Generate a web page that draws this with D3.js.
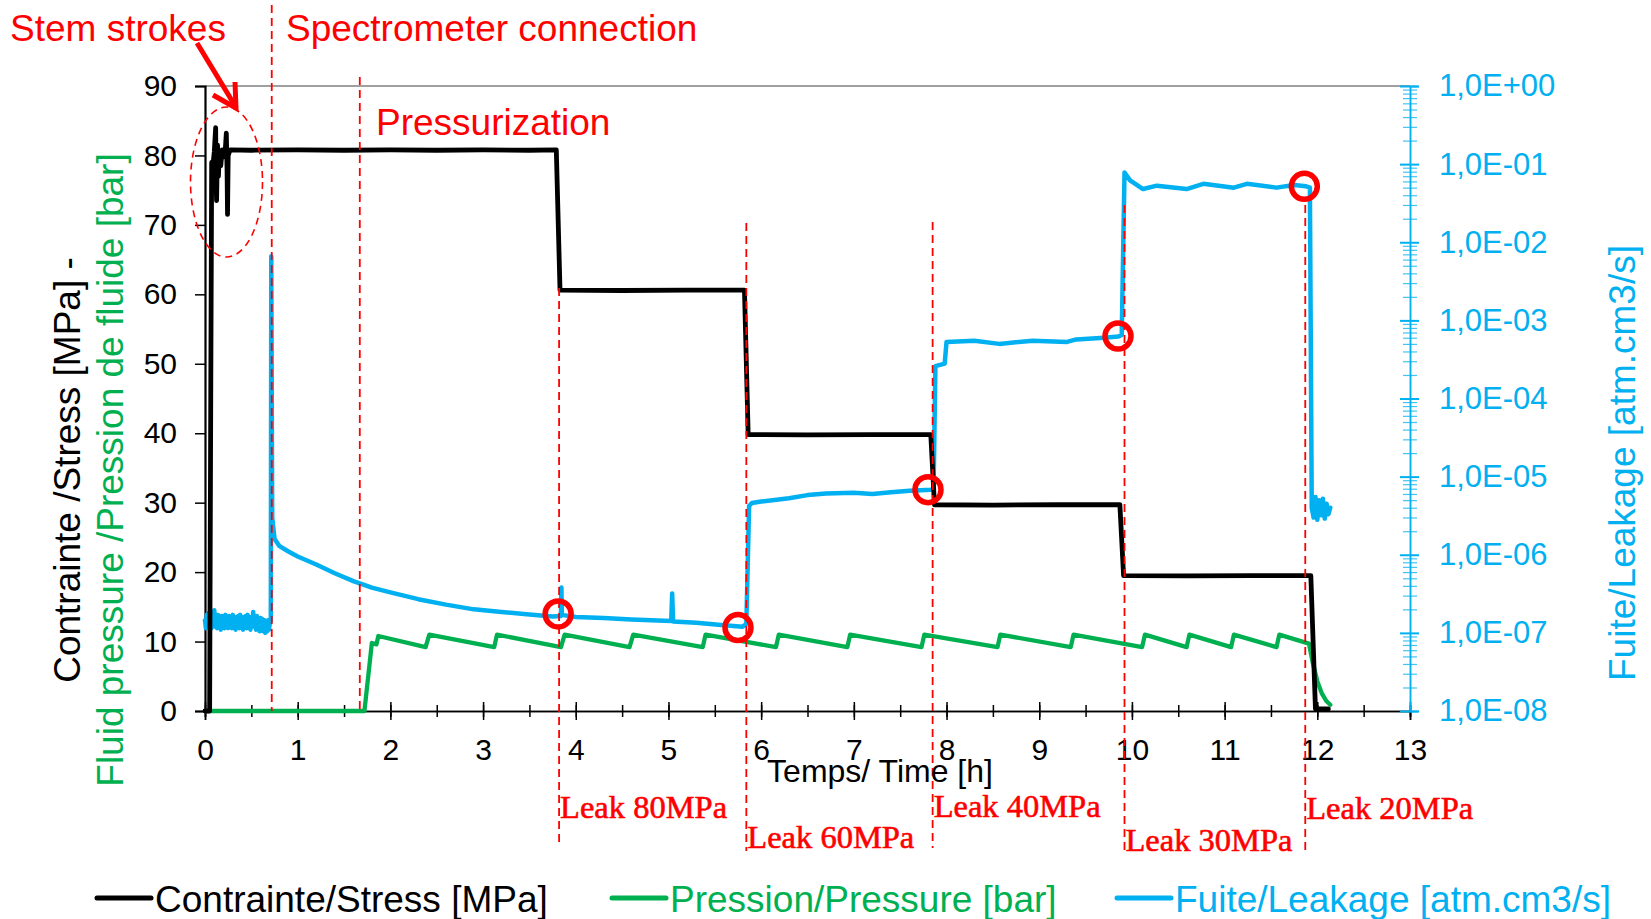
<!DOCTYPE html>
<html><head><meta charset="utf-8">
<script src="https://cdn.jsdelivr.net/npm/d3@7"></script>
<style>
body{margin:0;background:#fff}
</style>
</head><body>
<svg id="c" width="1651" height="919" style="font-family:'Liberation Sans',Arial,sans-serif"></svg>
<script>
// ---------- DATA ----------
const xTicks = d3.range(0, 14, 1);
const xMinorTicks = d3.range(0, 13.01, 0.5);
const leftTicks = d3.range(0, 91, 10);
const leftMinorTicks = d3.range(0, 91, 2);
const rightTicks = [1e-8,1e-7,1e-6,1e-5,1e-4,1e-3,1e-2,1e-1,1];

// Contrainte / Stress [MPa] (time h, MPa)
const stress = [
 [0,0],[0.05,0],[0.062,45],[0.072,79],[0.085,78.5],[0.1,80.5],[0.115,84],[0.12,76],[0.125,73.5],
 [0.135,81.5],[0.145,77],[0.155,80.5],[0.17,78.5],[0.185,80.8],[0.2,79.8],[0.22,81],[0.23,83.2],
 [0.238,78],[0.243,71.5],[0.25,80],[0.27,80.8],[0.5,80.75],[1.0,80.8],[1.5,80.75],[2.0,80.8],
 [2.5,80.75],[3.0,80.8],[3.5,80.75],[3.79,80.8],[3.83,60.6],[4.5,60.55],[5.2,60.6],[5.82,60.6],
 [5.86,39.8],[6.5,39.75],[7.2,39.8],[7.83,39.8],[7.87,29.7],[8.5,29.65],[9.2,29.7],[9.87,29.7],
 [9.91,19.5],[10.6,19.45],[11.3,19.5],[11.93,19.5],[11.98,0.3],[12.12,0.3]
];

// Pression / Pressure [bar]
const pressure = [
 [0,0],[1.72,0],[1.8,9.8],[1.85,9.6],[1.87,10.8],[2.38,9.2],[2.42,11.0],[3.12,9.2],[3.15,11.0],
 [3.84,9.2],[3.88,11.0],[4.58,9.2],[4.62,11.0],[5.37,9.2],[5.40,11.0],[6.16,9.2],[6.19,11.0],
 [6.93,9.2],[6.96,11.0],[7.73,9.2],[7.76,11.0],[8.55,9.2],[8.58,11.0],[9.34,9.2],[9.37,11.0],
 [10.11,9.2],[10.14,11.0],[10.59,9.2],[10.62,11.0],[11.07,9.2],[11.10,11.0],[11.56,9.2],
 [11.59,11.0],[11.91,9.7],[11.95,7],[12.0,4.3],[12.05,2.5],[12.1,1.4],[12.14,0.9]
];

// Fuite / Leakage [atm.cm3/s]
const leakage = [
 [0,1.45e-7],[0.01,1.15e-7],[0.02,1.7e-7],[0.03,1.2e-7],[0.04,1.8e-7],[0.05,1.25e-7],[0.06,1.6e-7],
 [0.07,1.15e-7],[0.08,1.55e-7],[0.09,1.25e-7],[0.1,1.95e-7],[0.11,1.2e-7],[0.12,1.6e-7],[0.13,1.15e-7],
 [0.14,1.7e-7],[0.15,1.25e-7],[0.16,1.55e-7],[0.17,1.1e-7],[0.18,1.65e-7],[0.19,1.2e-7],[0.2,1.6e-7],
 [0.21,1.15e-7],[0.22,1.7e-7],[0.23,1.2e-7],[0.24,1.55e-7],[0.25,1.15e-7],[0.26,1.65e-7],[0.27,1.2e-7],
 [0.28,1.6e-7],[0.29,1.15e-7],[0.3,1.7e-7],[0.31,1.2e-7],[0.32,1.55e-7],[0.33,1.1e-7],[0.34,1.6e-7],
 [0.35,1.2e-7],[0.36,1.65e-7],[0.37,1.15e-7],[0.38,1.7e-7],[0.39,1.2e-7],[0.4,1.55e-7],[0.41,1.1e-7],
 [0.42,1.6e-7],[0.43,1.2e-7],[0.44,1.65e-7],[0.45,1.15e-7],[0.46,1.7e-7],[0.47,1.2e-7],[0.48,1.55e-7],
 [0.49,1.1e-7],[0.5,1.6e-7],[0.51,1.25e-7],[0.52,1.85e-7],[0.53,1.2e-7],[0.54,1.6e-7],[0.55,1.1e-7],
 [0.56,1.65e-7],[0.57,1.15e-7],[0.58,1.5e-7],[0.59,1.05e-7],[0.6,1.55e-7],[0.61,1.1e-7],[0.62,1.5e-7],
 [0.63,1.05e-7],[0.64,1.45e-7],[0.65,1.0e-7],[0.66,1.4e-7],[0.67,1.05e-7],[0.68,1.45e-7],[0.69,1.1e-7],
 [0.7,1.35e-7],[0.71,1.4e-7],[0.715,6.6e-3],[0.725,3e-6],[0.75,1.6e-6],[0.8,1.3e-6],[0.9,1.1e-6],
 [1.0,9.5e-7],[1.2,7.5e-7],[1.4,5.8e-7],[1.6,4.6e-7],[1.8,3.8e-7],[2.0,3.3e-7],[2.3,2.7e-7],
 [2.6,2.3e-7],[2.9,2.0e-7],[3.2,1.85e-7],[3.5,1.72e-7],[3.75,1.62e-7],[3.84,1.65e-7],[3.845,3.8e-7],
 [3.85,1.7e-7],[4.0,1.6e-7],[4.3,1.55e-7],[4.6,1.48e-7],[5.03,1.42e-7],[5.04,3.2e-7],[5.05,1.4e-7],
 [5.3,1.35e-7],[5.6,1.25e-7],[5.8,1.2e-7],[5.84,1.3e-7],[5.87,4.2e-6],[5.9,4.6e-6],[6.0,4.8e-6],
 [6.3,5.3e-6],[6.5,5.8e-6],[6.7,6.1e-6],[7.0,6.2e-6],[7.2,6.0e-6],[7.4,6.3e-6],[7.6,6.6e-6],
 [7.83,6.8e-6],[7.86,7e-6],[7.88,2.6e-4],[7.98,2.8e-4],[8.0,5.3e-4],[8.3,5.5e-4],[8.57,5.0e-4],
 [8.93,5.5e-4],[9.3,5.3e-4],[9.4,5.7e-4],[9.7,6.0e-4],[9.85,6.2e-4],[9.89,6.5e-4],[9.92,0.078],
 [9.98,0.062],[10.12,0.048],[10.27,0.053],[10.59,0.048],[10.77,0.056],[11.1,0.05],[11.24,0.056],
 [11.56,0.05],[11.75,0.054],[11.88,0.052],[11.92,0.05],[11.94,4e-6],[11.96,3e-6],[11.98,5.5e-6],
 [12.0,2.8e-6],[12.02,5e-6],[12.04,3.2e-6],[12.06,5.2e-6],[12.08,2.9e-6],[12.1,4.5e-6],[12.12,3.3e-6],
 [12.14,4e-6]
];

// Red circles (time h, leakage)
const circles = [[3.81,1.75e-7],[5.75,1.17e-7],[7.80,6.8e-6],[9.85,6.3e-4],[11.86,0.052]];

// Event lines (time h)
const eventTimes = [0.72, 1.67];
const leakTimes = [3.82, 5.84, 7.85, 9.92, 11.87];
const leakLabels = ["Leak 80MPa","Leak 60MPa","Leak 40MPa","Leak 30MPa","Leak 20MPa"];

const seriesNames = ["Contrainte/Stress [MPa]","Pression/Pressure [bar]","Fuite/Leakage [atm.cm3/s]"];

// ---------- LAYOUT ----------
const C = {black:"#000000", green:"#00b050", blue:"#00b0f0", red:"#ff0000"};
const L = 205, R = 1410, T = 86, B = 711;
const SANS = "'Liberation Sans', Arial, sans-serif";
const SERIF = "'Liberation Serif', 'Times New Roman', serif";
const svg = d3.select("#c");

const x = d3.scaleLinear().domain([0,13]).range([L,R]);
const yL = d3.scaleLinear().domain([0,90]).range([B,T]);
const yR = d3.scaleLog().domain([1e-8,1]).range([B,T]);

// top border
svg.append("line").attr("x1",L).attr("x2",R).attr("y1",T).attr("y2",T)
  .attr("stroke","#808080").attr("stroke-width",1.5);

// left axis
const gl = svg.append("g").attr("transform",`translate(${L},0)`);
gl.call(d3.axisLeft(yL).tickValues(leftMinorTicks).tickSize(7).tickFormat(""));
gl.call(d3.axisLeft(yL).tickValues(leftTicks).tickSize(10).tickPadding(18));
gl.selectAll("path.domain").attr("stroke","#000").attr("stroke-width",2.2);
gl.selectAll("line").attr("stroke","#000").attr("stroke-width",1.5);
gl.selectAll("text").style("font-size","30px").style("font-family",SANS).attr("fill","#000");

// bottom axis
const gb = svg.append("g").attr("transform",`translate(0,${B})`);
const gbm = gb.append("g").call(d3.axisBottom(x).tickValues(xMinorTicks).tickSize(6).tickFormat(""));
gbm.selectAll("line").attr("y1",-6);
const gbM = gb.append("g").call(d3.axisBottom(x).tickValues(xTicks).tickSize(9).tickPadding(19).tickFormat(d3.format("d")));
gbM.selectAll("line").attr("y1",-9);
gb.selectAll("path.domain").attr("stroke","#000").attr("stroke-width",1.5);
gb.selectAll("line").attr("stroke","#000").attr("stroke-width",1.5);
gb.selectAll("text").style("font-size","30px").style("font-family",SANS).attr("fill","#000");

// right axis (log)
const minorR = [];
for (let e=-8; e<0; e++) for (let m=2; m<10; m++) minorR.push(m*Math.pow(10,e));
const gr = svg.append("g").attr("transform",`translate(${R},0)`);
const grm = gr.append("g").call(d3.axisRight(yR).tickValues(minorR).tickSize(7).tickFormat(""));
grm.selectAll("line").attr("x1",-7).attr("stroke-opacity",0.75).attr("stroke-width",1.2);
const fmtE = d => { const e = Math.round(Math.log10(d)); return "1,0E" + (e>=0?"+":"-") + String(Math.abs(e)).padStart(2,"0"); };
const grM = gr.append("g").call(d3.axisRight(yR).tickValues(rightTicks).tickSize(9).tickPadding(20).tickFormat(fmtE));
grM.selectAll("line").attr("x1",-10).attr("stroke-width",2);
gr.selectAll("path.domain").attr("stroke",C.blue).attr("stroke-width",1.5);
gr.selectAll("line").attr("stroke",C.blue);
gr.selectAll("text").style("font-size","31px").style("font-family",SANS).attr("fill",C.blue);

// ---------- SERIES ----------
const lineL = d3.line().x(d=>x(d[0])).y(d=>yL(d[1]));
const lineR = d3.line().x(d=>x(d[0])).y(d=>yR(d[1]));
svg.append("path").datum(pressure).attr("d",lineL).attr("fill","none")
  .attr("stroke",C.green).attr("stroke-width",4.3).attr("stroke-linejoin","round").attr("stroke-linecap","round");
svg.append("path").datum(leakage).attr("d",lineR).attr("fill","none")
  .attr("stroke",C.blue).attr("stroke-width",4.5).attr("stroke-linejoin","round").attr("stroke-linecap","round");
svg.append("path").datum(stress).attr("d",lineL).attr("fill","none")
  .attr("stroke",C.black).attr("stroke-width",4.8).attr("stroke-linejoin","round").attr("stroke-linecap","round");

// ---------- ANNOTATIONS ----------
const dash = "8,5";
const evTop = [5, 77];
eventTimes.forEach((t,i)=>{
  svg.append("line").attr("x1",x(t)).attr("x2",x(t)).attr("y1",evTop[i]).attr("y2",B)
    .attr("stroke",C.red).attr("stroke-width",1.8).attr("stroke-dasharray",dash);
});
const lkTop = [288, 223, 222, 205, 205];
const lkBot = [842, 851, 848, 853, 853];
const lkBase = [818, 848, 817, 851, 819];
leakTimes.forEach((t,i)=>{
  svg.append("line").attr("x1",x(t)).attr("x2",x(t)).attr("y1",lkTop[i]).attr("y2",lkBot[i])
    .attr("stroke",C.red).attr("stroke-width",1.8).attr("stroke-dasharray",dash);
  svg.append("text").attr("x",x(t)+1).attr("y",lkBase[i]).text(leakLabels[i])
    .style("font-family",SERIF).style("font-size","32.5px").attr("fill",C.red)
    .attr("stroke",C.red).attr("stroke-width",0.6);
});

svg.selectAll("circle.mk").data(circles).join("circle").attr("class","mk")
  .attr("cx",d=>x(d[0])).attr("cy",d=>yR(d[1])).attr("r",13)
  .attr("fill","none").attr("stroke",C.red).attr("stroke-width",5.5);

// ellipse + arrow
svg.append("ellipse").attr("cx",226.5).attr("cy",182).attr("rx",36).attr("ry",75)
  .attr("fill","none").attr("stroke",C.red).attr("stroke-width",1.6).attr("stroke-dasharray","7,5");
svg.append("path").attr("d","M197,43 L234,104").attr("stroke",C.red).attr("stroke-width",5).attr("fill","none");
svg.append("path").attr("d","M213,95 L236,108 L235,82").attr("stroke",C.red).attr("stroke-width",5)
  .attr("fill","none").attr("stroke-linejoin","miter");

const ann = (s,xx,yy)=>svg.append("text").attr("x",xx).attr("y",yy).text(s)
  .style("font-size","37px").style("font-family",SANS).attr("fill",C.red);
ann("Stem strokes",10,41);
ann("Spectrometer connection",286,41);
ann("Pressurization",376,135);

// axis titles
svg.append("text").attr("x",880).attr("y",782).attr("text-anchor","middle")
  .style("font-size","32px").style("font-family",SANS).attr("fill","#000").text("Temps/ Time [h]");
svg.append("text").attr("transform","translate(80,470) rotate(-90)").attr("text-anchor","middle")
  .style("font-size","37px").style("font-family",SANS).attr("fill","#000").text("Contrainte /Stress [MPa] -");
svg.append("text").attr("transform","translate(123,470) rotate(-90)").attr("text-anchor","middle")
  .style("font-size","37px").style("font-family",SANS).attr("fill",C.green).text("Fluid pressure /Pression de fluide [bar]");
svg.append("text").attr("transform","translate(1635,463) rotate(-90)").attr("text-anchor","middle")
  .style("font-size","37px").style("font-family",SANS).attr("fill",C.blue).text("Fuite/Leakage [atm.cm3/s]");

// legend
const legX = [97, 612, 1117];
const legCol = [C.black, C.green, C.blue];
seriesNames.forEach((s,i)=>{
  svg.append("line").attr("x1",legX[i]).attr("x2",legX[i]+54).attr("y1",898).attr("y2",898)
    .attr("stroke",legCol[i]).attr("stroke-width",5).attr("stroke-linecap","round");
  svg.append("text").attr("x",legX[i]+58).attr("y",912).style("font-size","37px").style("font-family",SANS)
    .attr("fill",legCol[i]).text(s);
});
</script>
</body></html>
